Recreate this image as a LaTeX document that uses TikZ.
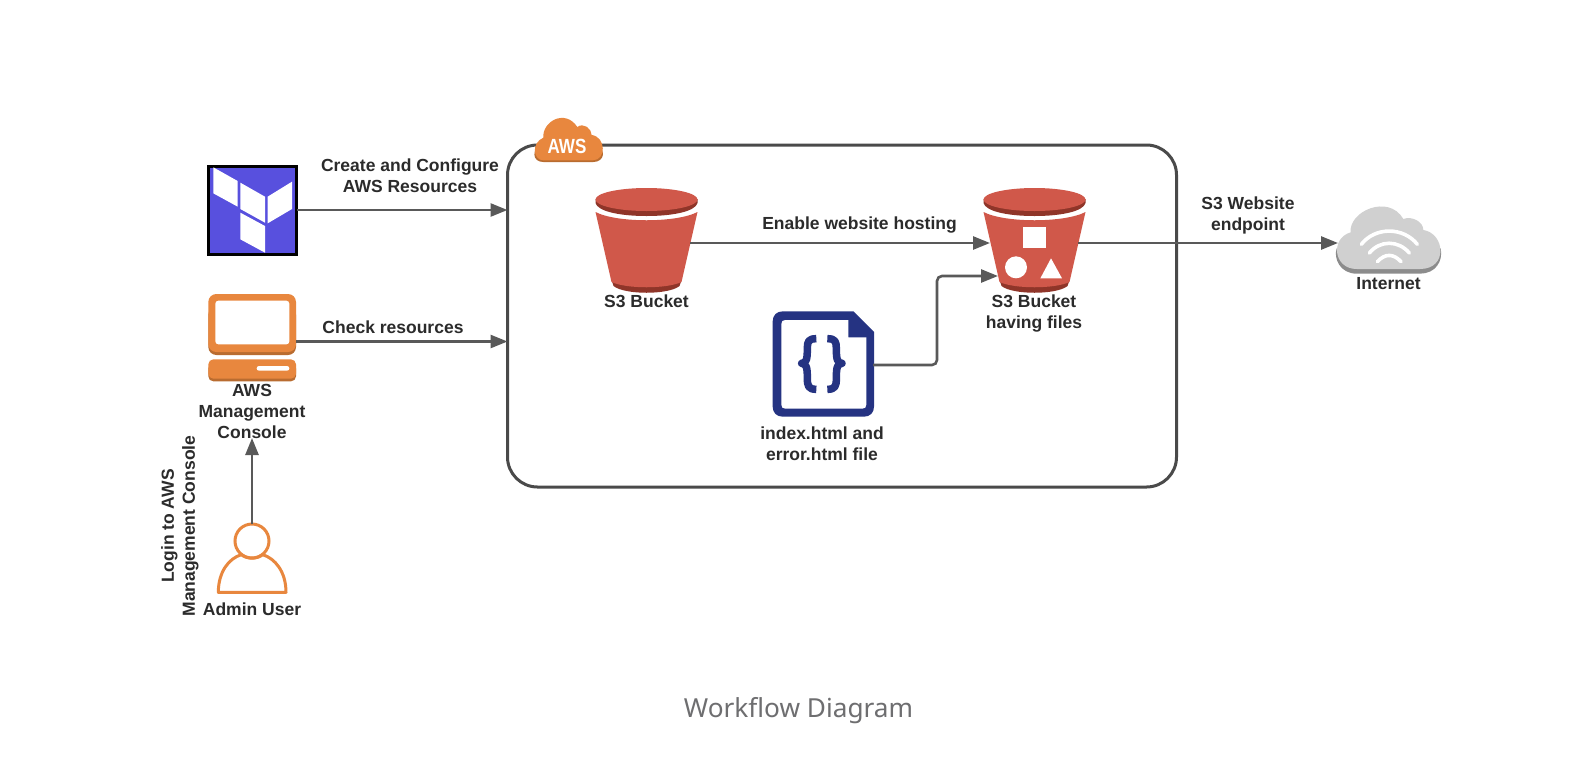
\documentclass[tikz,border=0pt]{standalone}
\usepackage{fontspec}
\setmainfont{Liberation Sans}
\newfontfamily\capfont{Noto Sans}
\usetikzlibrary{arrows.meta,calc}
\definecolor{linegray}{HTML}{595959}
\definecolor{boxline}{HTML}{4A4A4A}
\definecolor{inkdark}{HTML}{2B2B2B}
\definecolor{awsorange}{HTML}{E8873E}
\definecolor{awsorangedark}{HTML}{B96C30}
\definecolor{bucketred}{HTML}{D0584A}
\definecolor{bucketdark}{HTML}{8F3529}
\definecolor{navy}{HTML}{253382}
\definecolor{tfblue}{HTML}{5850DE}
\definecolor{cloudgray}{HTML}{D0D0D0}
\definecolor{clouddark}{HTML}{8C8C8C}
\definecolor{captiongray}{HTML}{6E6E70}
\tikzset{
  lbl/.style={font=\bfseries\fontsize{17.5}{21}\selectfont,text=inkdark,align=center,inner sep=0pt},
  conn/.style={draw=linegray,line width=2.6pt,-{Triangle[length=17pt,width=13pt]}},
  iconbox/.style={inner sep=0pt,outer sep=0pt,draw=none},
  zoomed/.style={scale=0.33333},
  pics/s3bucket/.style={code={
    % coordinates relative to the centre of the lid, in reference pixels
    \fill[bucketdark] (-35,80) -- (-33,86) .. controls (-22,95) and (22,95) .. (33,86) -- (35,80) -- cycle;
    \fill[bucketred] (-51,12) .. controls (-30,23) and (30,23) .. (51,12) -- (35,82) .. controls (20,89) and (-20,89) .. (-35,82) -- cycle;
    \fill[bucketdark] (-51,-1) -- (-51,3) .. controls (-49,11) and (-28,16) .. (0,16) .. controls (28,16) and (49,11) .. (51,3) -- (51,-1) -- cycle;
    \fill[bucketred] (0,-0.5) ellipse [x radius=51,y radius=11.5];
  }}
}
\begin{document}
\begin{tikzpicture}[x=1pt,y=-1pt]
\useasboundingbox (0,0) rectangle (1570,780);
\fill[white] (0,0) rectangle (1570,780);

% container
\node[iconbox,draw=boxline,line width=3pt,rounded corners=30pt,minimum width=669pt,minimum height=342pt] (box) at (842,316) {};

% terraform
\node[iconbox,fill=tfblue,draw=black,line width=3pt,minimum width=88pt,minimum height=88pt,anchor=center] (tf) at (252.5,210) {};
\begin{scope}[shift={(190,150)},zoomed]
  \fill[white] (70,52) -- (143,93) -- (143,170) -- (70,130) -- cycle;
  \fill[white] (151,98) -- (225,140) -- (225,218) -- (151,177) -- cycle;
  \fill[white] (233,140) -- (306,95) -- (306,177) -- (233,220) -- cycle;
  \fill[white] (151,188) -- (225,228) -- (225,308) -- (151,268) -- cycle;
\end{scope}

% console
\node[iconbox,minimum width=88pt,minimum height=61pt] (mon) at (252,341.5) {};
\begin{scope}[shift={(190,150)},zoomed]
  \fill[awsorangedark,rounded corners=8pt] (55,470) rectangle (318,615);
  \fill[awsorange,rounded corners=8pt] (55,432) rectangle (318,606);
  \fill[white,rounded corners=3pt] (76,452) rectangle (298,583);
  \fill[awsorangedark,rounded corners=5pt] (55,640) rectangle (318,694);
  \fill[awsorange,rounded corners=5pt] (55,628) rectangle (318,686);
  \fill[white,rounded corners=2.3pt] (200,648) rectangle (298,662);
\end{scope}

% user
\node[iconbox,circle,draw=awsorange,line width=3pt,minimum size=34pt,fill=white] (head) at (252,541) {};
\begin{scope}[shift={(150,430)},zoomed]
  \draw[awsorange,line width=3pt,line join=round] (205,487) -- (408,487) .. controls (408,425) and (375,385) .. (338,374) .. controls (320,388) and (292,388) .. (274,374) .. controls (237,385) and (205,425) .. (205,487) -- cycle;
\end{scope}

% aws cloud
\begin{scope}[shift={(500,105)},zoomed]
  \fill[awsorangedark] (130,171) .. controls (95,171) and (95,130) .. (125,120) -- (285,120) .. controls (320,130) and (315,171) .. (280,171) -- cycle;
  \fill[awsorange] (130,166) .. controls (100,166) and (92,115) .. (130,98) .. controls (126,50) and (195,10) .. (232,66) .. controls (250,52) and (275,70) .. (275,90) .. controls (318,95) and (320,166) .. (278,166) -- cycle;
\end{scope}
\node[font=\bfseries\fontsize{20.5}{21}\selectfont,text=white,inner sep=0pt] (awst) at (567,146) {\scalebox{.83}[1]{AWS}};

% buckets
\pic at (646.5,200) {s3bucket};
\pic at (1034.5,200) {s3bucket};
\coordinate (b1) at (690,243);
\coordinate (b2w) at (990,243);
\coordinate (b2e) at (1078,243);
\coordinate (b2f) at (998,276);
\begin{scope}[shift={(960,175)},zoomed]
  \fill[white] (188,155) rectangle (257,220);
  \fill[white] (168,277) circle [radius=33];
  \fill[white] (241,310) -- (273,250) -- (306,310) -- cycle;
\end{scope}

% document
\node[iconbox,minimum width=102pt,minimum height=102pt] (doc) at (822,365) {};
\begin{scope}[shift={(750,300)},zoomed]
  \fill[navy] (98,34) -- (310,34) -- (372,96) -- (372,320) .. controls (372,338) and (360,350) .. (342,350) -- (98,350) .. controls (80,350) and (68,338) .. (68,320) -- (68,64) .. controls (68,46) and (80,34) .. (98,34) -- cycle;
  \fill[white] (106,60) -- (295,60) -- (295,112) -- (349,112) -- (349,314) .. controls (349,322) and (345,326) .. (337,326) -- (106,326) .. controls (98,326) and (94,322) .. (94,314) -- (94,72) .. controls (94,64) and (98,60) .. (106,60) -- cycle;
  \draw[navy,line width=7.5pt,line join=round] (199,116) .. controls (175,116) and (172,125) .. (172,145) .. controls (172,175) and (170,190) .. (155,190) .. controls (170,190) and (172,205) .. (172,235) .. controls (172,258) and (175,268) .. (199,268);
  \draw[navy,line width=7.5pt,line join=round] (232,116) .. controls (256,116) and (259,125) .. (259,145) .. controls (259,175) and (261,190) .. (276,190) .. controls (261,190) and (259,205) .. (259,235) .. controls (259,258) and (256,268) .. (232,268);
\end{scope}

% internet cloud
\begin{scope}[shift={(1320,195)},zoomed]
  \fill[clouddark] (110,236) .. controls (60,236) and (40,190) .. (50,160) -- (362,160) .. controls (370,200) and (345,236) .. (300,236) -- cycle;
  \fill[cloudgray] (110,222) .. controls (40,222) and (30,130) .. (92,112) .. controls (85,50) and (205,-5) .. (250,72) .. controls (275,62) and (310,80) .. (310,105) .. controls (375,115) and (385,222) .. (300,222) -- cycle;
  \draw[white,line width=3.6pt,line cap=round] (124,148) .. controls (165,95) and (250,95) .. (292,148);
  \draw[white,line width=3.6pt,line cap=round] (148,174) .. controls (180,135) and (235,135) .. (268,174);
  \draw[white,line width=3.6pt,line cap=round] (172,200) .. controls (195,175) and (220,175) .. (243,200);
\end{scope}
\coordinate (net) at (1338,243);

% connectors
\coordinate (tip) at (252,438);
\draw[conn] (tf.east) -- (tf.east -| box.west);
\draw[conn] (mon.east) -- (mon.east -| box.west);
\draw[conn] (head.north) -- (tip);
\draw[conn] (b1) -- (b2w);
\draw[conn,rounded corners=5pt] (doc.east) -- ($(doc.east)+(64,0)$) |- (b2f);
\draw[conn] (b2e) -- (net);

% labels
\node[lbl] (l1) at (410,176) {Create and Configure\\AWS Resources};
\node[lbl] (l2) at (393,327.5) {Check resources};
\node[lbl] (l3) at (252,411.5) {AWS\\Management\\Console};
\node[lbl,rotate=90] (l4) at (180,526) {Login to AWS\\Management Console};
\node[lbl] (l5) at (252,609) {Admin User};
\node[lbl] (l6) at (859.5,225) {Enable website hosting};
\node[lbl] (l7) at (646.5,301.5) {S3 Bucket};
\node[lbl] (l8) at (1034,314) {S3 Bucket\\having files};
\node[lbl] (l9) at (822,444) {index.html and\\error.html file};
\node[lbl] (l10) at (1248,215) {S3 Website\\endpoint};
\node[lbl] (l11) at (1388.5,283.5) {Internet};
\node[font=\capfont\fontsize{26.2}{30}\selectfont,text=captiongray,inner sep=0pt] (cap) at (798.5,710.5) {Workflow Diagram};
\end{tikzpicture}
\end{document}
